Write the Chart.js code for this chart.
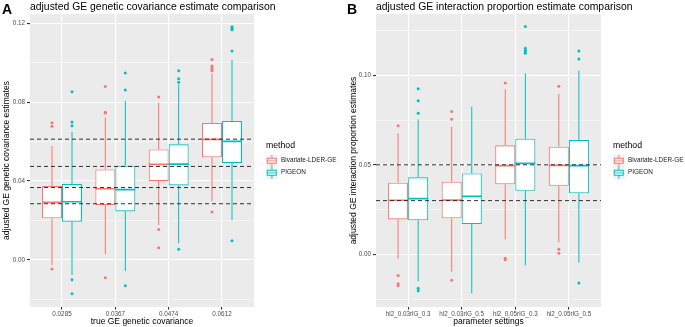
<!DOCTYPE html>
<html>
<head>
<meta charset="utf-8">
<script src="https://cdn.jsdelivr.net/npm/chart.js@4.4.1/dist/chart.umd.min.js"></script>
<style>
  body { margin: 0; background: #fff; }
  #wrap { position: relative; width: 685px; height: 327px; overflow: hidden; font-family: 'Liberation Sans', Arial, sans-serif; }
  canvas { position: absolute; top: 0; }
  .tag { position: absolute; top: 1.5px; font-weight: bold; font-size: 14px; line-height: 14px; color: #000; }
  .ttl { position: absolute; top: 1.5px; font-size: 10.4px; line-height: 10px; color: #000; white-space: nowrap; }
</style>
</head>
<body>
<div id="wrap">
  <canvas id="panelA" width="342" height="327" style="left:0"></canvas>
  <canvas id="panelB" width="343" height="327" style="left:342px"></canvas>
  <div class="tag" style="left:2px">A</div>
  <div class="ttl" style="left:30px">adjusted GE genetic covariance estimate comparison</div>
  <div class="tag" style="left:347px">B</div>
  <div class="ttl" style="left:376px">adjusted GE interaction proportion estimate comparison</div>
</div>
<script>
// methods (ggplot default hues)
const methods = ['Bivariate-LDER-GE', 'PIGEON'];
const methodColors = ['#F8766D', '#00BFC4'];

// panel A - genetic covariance
const covCategories = ['0.0285', '0.0367', '0.0474', '0.0612'];
const covTruth = [0.0285, 0.0367, 0.0474, 0.0612];
const covTicks = [-0.02, 0, 0.02, 0.04, 0.06, 0.08, 0.10, 0.12];
const covLabels = [0, 0.04, 0.08, 0.12];
// each box: [lower whisker, Q1, median, Q3, upper whisker]
const covLder = [
  [-0.0025, 0.0211, 0.0292, 0.0375, 0.0577],
  [0.0029, 0.0278, 0.0361, 0.0459, 0.0722],
  [0.0177, 0.0400, 0.0484, 0.0560, 0.0798],
  [0.0298, 0.0520, 0.0611, 0.0694, 0.0945]
];
const covPigeon = [
  [-0.0076, 0.0194, 0.0295, 0.0385, 0.0648],
  [-0.0056, 0.0246, 0.0356, 0.0478, 0.0805],
  [0.0085, 0.0378, 0.0486, 0.0586, 0.0889],
  [0.0203, 0.0491, 0.0601, 0.0704, 0.1013]
];
const covLderOut = [
  [0.0695, 0.0678, -0.0046],
  [0.0879, 0.0748, 0.0744, -0.0090],
  [0.0825, 0.0155, 0.0062],
  [0.1016, 0.0982, 0.0975, 0.0965, 0.0958, 0.0243]
];
const covPigeonOut = [
  [0.0852, 0.0699, 0.0680, -0.0100, -0.0171],
  [0.0947, 0.0861, -0.0130],
  [0.0959, 0.0918, 0.0900, 0.0054],
  [0.1181, 0.1176, 0.1171, 0.1166, 0.1058, 0.0098]
];

// panel B - interaction proportion
const propCategories = ['hl2_0.03rlG_0.3', 'hl2_0.03rlG_0.5', 'hl2_0.05rlG_0.3', 'hl2_0.05rlG_0.5'];
const propTruth = [0.03, 0.05];
const propTicks = [-0.025, 0, 0.025, 0.05, 0.075, 0.10, 0.125];
const propLabels = [0, 0.05, 0.10];
const propLder = [
  [-0.0024, 0.0195, 0.0302, 0.0400, 0.0676],
  [-0.0097, 0.0201, 0.0303, 0.0406, 0.0713],
  [0.0084, 0.0391, 0.0495, 0.0609, 0.0922],
  [0.0067, 0.0383, 0.0497, 0.0601, 0.0896]
];
const propPigeon = [
  [-0.0151, 0.0190, 0.0311, 0.0430, 0.0754],
  [-0.0218, 0.0169, 0.0324, 0.0452, 0.0825],
  [-0.0061, 0.0355, 0.0508, 0.0646, 0.1011],
  [-0.0047, 0.0341, 0.0495, 0.0639, 0.1026]
];
const propLderOut = [
  [0.0718, -0.0118, -0.0164, -0.0175],
  [0.0797, 0.0754, -0.0144],
  [0.0957, -0.0022, -0.0030],
  [0.0938, 0.0028, 0.0006]
];
const propPigeonOut = [
  [0.0925, 0.0857, 0.0788, -0.0190, -0.0203],
  [],
  [0.1272, 0.1151, 0.1140, 0.1130, 0.1123],
  [0.1136, 0.1091, -0.0160]
];

Chart.defaults.font.family = "'Liberation Sans', Arial, sans-serif";

const xMin = 0.4, xMax = 4.6;
const dodge = 0.1875;   // half of the box width, in category units
const tickFont = { size: 6.3 };
const tickColor = '#4D4D4D';

// small boxplot glyph used as legend key
function keyIcon(color) {
  const c = document.createElement('canvas');
  c.width = 18; c.height = 12;
  const g = c.getContext('2d');
  g.fillStyle = '#F2F2F2';
  g.fillRect(0, 0, 12, 12);
  g.strokeStyle = color;
  g.lineWidth = 1;
  g.beginPath(); g.moveTo(6, 0); g.lineTo(6, 12); g.stroke();
  g.fillStyle = '#fff';
  g.fillRect(1.5, 3.5, 9, 5);
  g.strokeRect(1.5, 3.5, 9, 5);
  g.beginPath(); g.moveTo(1.5, 6); g.lineTo(10.5, 6); g.stroke();
  return c;
}
const keyIcons = methodColors.map(keyIcon);

function boxDatasets(stats, outliers, mi) {
  const side = mi === 0 ? -dodge : dodge;
  const col = methodColors[mi];
  const boxes = [], whiskers = [], medians = [], points = [];
  stats.forEach((s, i) => {
    const xc = i + 1 + side;
    boxes.push({ x: i + 1, y: [s[1], s[3]] });
    whiskers.push({ x: xc, y: s[0] }, { x: xc, y: s[1] }, { x: xc, y: null },
                  { x: xc, y: s[3] }, { x: xc, y: s[4] }, { x: xc, y: null });
    medians.push({ x: xc - dodge, y: s[2] }, { x: xc + dodge, y: s[2] }, { x: xc, y: null });
    outliers[i].forEach(v => points.push({ x: xc, y: v }));
  });
  return [
    { type: 'bar', label: methods[mi], data: boxes, backgroundColor: '#fff', borderColor: col,
      borderWidth: 1.1, borderSkipped: false, categoryPercentage: 0.75, barPercentage: 1, order: 3 },
    { type: 'line', data: whiskers, borderColor: col, borderWidth: 1, pointRadius: 0, order: 4 },
    { type: 'line', data: medians, borderColor: col, borderWidth: 1.7, pointRadius: 0, order: 2 },
    { type: 'scatter', data: points, backgroundColor: col, pointRadius: 1.5, borderWidth: 0, order: 1 }
  ];
}

const panelBg = {
  id: 'panelBg',
  beforeDraw(chart) {
    const { ctx, chartArea: a } = chart;
    ctx.save();
    ctx.fillStyle = '#EBEBEB';
    ctx.fillRect(a.left, a.top, a.width, a.height);
    ctx.restore();
  }
};

function makePanel(id, p) {
  const truthLine = {
    type: 'line',
    data: p.truth.flatMap(v => [{ x: xMin, y: v }, { x: xMax, y: v }, { x: xMax, y: null }]),
    borderColor: '#1A1A1A', borderWidth: 0.9, borderDash: [4, 3], pointRadius: 0, order: 0
  };
  return new Chart(document.getElementById(id), {
    type: 'scatter',
    data: {
      datasets: [
        ...boxDatasets(p.lder, p.lderOut, 0),
        ...boxDatasets(p.pigeon, p.pigeonOut, 1),
        truthLine
      ]
    },
    options: {
      responsive: false,
      animation: false,
      events: [],
      layout: { padding: { top: 14, left: 0, right: 0, bottom: 0 } },
      scales: {
        x: {
          type: 'linear', min: xMin, max: xMax, offset: false,
          afterBuildTicks: s => { s.ticks = p.categories.map((c, i) => ({ value: i + 1 })); },
          ticks: { callback: v => p.categories[v - 1], autoSkip: false, maxRotation: 0,
                   font: tickFont, color: tickColor, padding: 1 },
          grid: { color: '#fff', lineWidth: 1.1, tickLength: 2.5, tickColor: '#333', offset: false },
          border: { display: false },
          title: { display: true, text: p.xTitle, font: { size: 8.5 }, color: '#000',
                   padding: { top: 0, bottom: 0.6 } },
          afterFit: s => { s.height = 20; }
        },
        y: {
          type: 'linear', min: p.yMin, max: p.yMax,
          afterBuildTicks: s => { s.ticks = p.ticks.map(v => ({ value: v })); },
          ticks: { callback: v => p.labels.includes(v) ? v.toFixed(2) : '',
                   font: tickFont, color: tickColor, padding: 2 },
          grid: {
            color: '#fff',
            lineWidth: c => p.labels.includes(c.tick.value) ? 1.1 : 0.5,
            tickLength: 3,
            tickColor: c => p.labels.includes(c.tick.value) ? '#333' : 'rgba(0,0,0,0)'
          },
          border: { display: false },
          title: { display: true, text: p.yTitle, font: { size: 8.5 }, color: '#000',
                   padding: { top: p.yTitlePad, bottom: 0 } },
          afterFit: s => { s.width = p.yWidth; }
        },
        // gap between the panel and the legend
        yGap: {
          position: 'right', display: true,
          grid: { display: false }, ticks: { display: false }, border: { display: false },
          afterFit: s => { s.width = 12; }
        }
      },
      plugins: {
        tooltip: { enabled: false },
        legend: {
          position: 'right', align: 'center', fullSize: false, maxWidth: p.legendWidth,
          title: { display: true, text: 'method', position: 'start', color: '#000',
                   font: { size: 8.7 }, padding: { top: 2, bottom: 0 } },
          labels: {
            usePointStyle: true, pointStyleWidth: 6.25, padding: 5.6,
            color: '#1A1A1A', font: { size: 6.4 },
            generateLabels: () => methods.map((m, i) => ({
              text: m, pointStyle: keyIcons[i], datasetIndex: i * 4,
              hidden: false, lineWidth: 0, fontColor: '#1A1A1A'
            }))
          }
        }
      }
    },
    plugins: [panelBg]
  });
}

makePanel('panelA', {
  categories: covCategories, truth: covTruth, ticks: covTicks, labels: covLabels,
  lder: covLder, pigeon: covPigeon, lderOut: covLderOut, pigeonOut: covPigeonOut,
  yMin: -0.0238, yMax: 0.1246, yWidth: 30, yTitlePad: 1.4, legendWidth: 76,
  xTitle: 'true GE genetic covariance',
  yTitle: 'adjusted GE genetic covariance estimates'
});

makePanel('panelB', {
  categories: propCategories, truth: propTruth, ticks: propTicks, labels: propLabels,
  lder: propLder, pigeon: propPigeon, lderOut: propLderOut, pigeonOut: propPigeonOut,
  yMin: -0.0294, yMax: 0.1342, yWidth: 34, yTitlePad: 6.9, legendWidth: 72,
  xTitle: 'parameter settings',
  yTitle: 'adjusted GE interaction proportion estimates'
});
</script>
</body>
</html>
